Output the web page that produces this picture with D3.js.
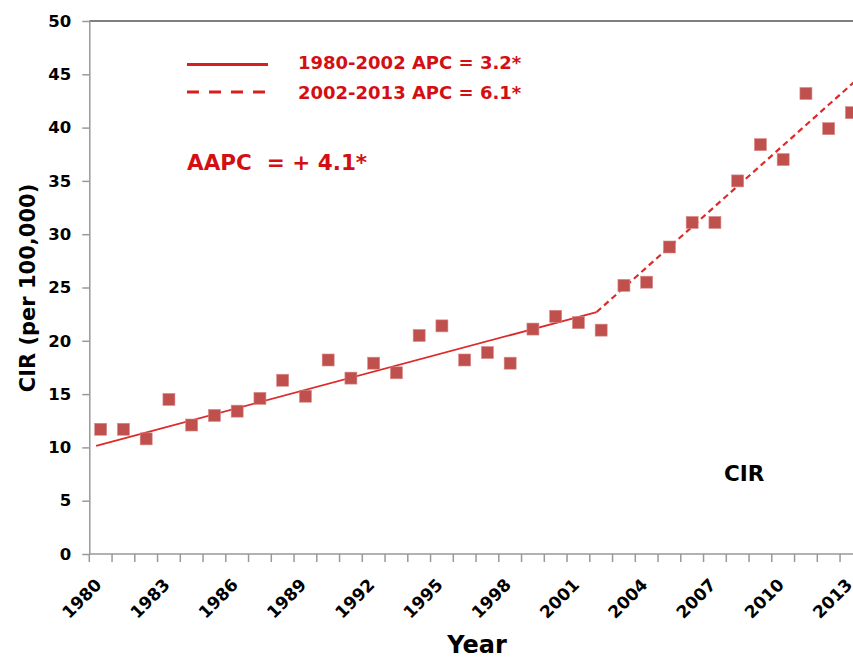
<!DOCTYPE html>
<html>
<head>
<meta charset="utf-8">
<script src="https://cdn.jsdelivr.net/npm/d3@7"></script>
<style>
  body { margin: 0; background: #fff; }
  svg { display: block; font-family: "DejaVu Sans", Verdana, sans-serif; font-weight: bold; }
  text { white-space: pre; }
</style>
</head>
<body>
<div id="chart"></div>
<script>
// yearly crude incidence rate
const years = d3.range(1980, 2014)
const cir = [11.7, 11.7, 10.8, 14.5, 12.1, 13.0, 13.4, 14.6, 16.3, 14.8,
  18.2, 16.5, 17.9, 17.0, 20.5, 21.4, 18.2, 18.9, 17.9, 21.1,
  22.3, 21.7, 21.0, 25.2, 25.5, 28.8, 31.1, 31.1, 35.0, 38.4,
  37.0, 43.2, 39.9, 41.4]

// joinpoint segments [year, rate]
const solidTrend = [[1979.8, 10.15], [2001.8, 22.7]]
const dashedTrend = [[2001.8, 22.7], [2013.5, 45.0]]

const yTicks = d3.range(0, 51, 5)
const xLabelYears = d3.range(1980, 2014, 3)
const legendLabels = ['1980-2002 APC = 3.2*', '2002-2013 APC = 6.1*']
const aapcLabel = 'AAPC  = + 4.1*'

const W = 853, H = 660
const plotLeft = 89.3, plotTop = 21, plotBottom = 554
const band = 22.75

const svg = d3.select('#chart').append('svg')
  .attr('width', W)
  .attr('height', H)

const x = d3.scaleBand()
  .domain(years)
  .range([plotLeft, plotLeft + band * years.length])
  .paddingInner(0)
const xYear = d3.scaleLinear()
  .domain([1980, 2013])
  .range([x(1980) + band / 2, x(2013) + band / 2])
const y = d3.scaleLinear()
  .domain([0, 50])
  .range([plotBottom, plotTop])

// top frame line
svg.append('line')
  .attr('x1', plotLeft).attr('x2', W)
  .attr('y1', plotTop).attr('y2', plotTop)
  .attr('stroke', '#555').attr('stroke-width', 1.5)

// y axis
const yAxis = svg.append('g')
  .attr('transform', `translate(${plotLeft},0)`)
  .call(d3.axisLeft(y).tickValues(yTicks).tickSize(7).tickSizeOuter(0).tickPadding(11))
yAxis.select('.domain').attr('stroke', '#999').attr('stroke-width', 1.5)
yAxis.selectAll('.tick line').attr('stroke', '#999').attr('stroke-width', 1.5)
yAxis.selectAll('.tick text')
  .attr('font-family', '"DejaVu Sans", sans-serif')
  .attr('font-size', 16.5)
  .attr('font-weight', 'bold')
  .attr('fill', '#000')

// x axis (category style, ticks between years)
const xAxis = svg.append('g')
xAxis.append('line')
  .attr('x1', plotLeft).attr('x2', W)
  .attr('y1', plotBottom).attr('y2', plotBottom)
  .attr('stroke', '#999').attr('stroke-width', 1.5)
xAxis.selectAll('line.tk')
  .data(years.concat([2014]))
  .join('line')
  .attr('class', 'tk')
  .attr('x1', d => d === 2014 ? x(2013) + band : x(d))
  .attr('x2', d => d === 2014 ? x(2013) + band : x(d))
  .attr('y1', plotBottom).attr('y2', plotBottom + 8)
  .attr('stroke', '#999').attr('stroke-width', 1.5)
xAxis.selectAll('text')
  .data(xLabelYears)
  .join('text')
  .attr('transform', d => `translate(${x(d) + band / 2 + 2},${plotBottom + 32}) rotate(-45)`)
  .attr('text-anchor', 'end')
  .attr('font-size', 17)
  .attr('fill', '#000')
  .text(d => d)

// axis titles
svg.append('text')
  .attr('transform', `translate(35,288) rotate(-90)`)
  .attr('text-anchor', 'middle')
  .attr('font-size', 21)
  .attr('fill', '#000')
  .text('CIR (per 100,000)')
svg.append('text')
  .attr('x', 477).attr('y', 653)
  .attr('text-anchor', 'middle')
  .attr('font-size', 24)
  .attr('fill', '#000')
  .text('Year')

// trend lines
const line = d3.line().x(d => xYear(d[0])).y(d => y(d[1]))
svg.append('path')
  .attr('d', line(solidTrend))
  .attr('fill', 'none')
  .attr('stroke', '#dc2a2a')
  .attr('stroke-width', 1.8)
svg.append('path')
  .attr('d', line(dashedTrend))
  .attr('fill', 'none')
  .attr('stroke', '#dc2a2a')
  .attr('stroke-width', 2.2)
  .attr('stroke-dasharray', '6,4')

// observed points
const s = 12
svg.append('g')
  .selectAll('rect')
  .data(years.map((yr, i) => [yr, cir[i]]))
  .join('rect')
  .attr('x', d => x(d[0]) + band / 2 - s / 2)
  .attr('y', d => y(d[1]) - s / 2)
  .attr('width', s).attr('height', s)
  .attr('fill', '#c0504d')
  .attr('stroke', '#d88a88')
  .attr('stroke-width', 0.6)

// legend
const legend = svg.append('g')
legend.selectAll('line')
  .data(legendLabels)
  .join('line')
  .attr('x1', 187).attr('x2', 268)
  .attr('y1', (d, i) => 64.5 + i * 27.5)
  .attr('y2', (d, i) => 64.5 + i * 27.5)
  .attr('stroke', '#d81e1e')
  .attr('stroke-width', 3)
  .attr('stroke-dasharray', (d, i) => i ? '12,10' : null)
legend.selectAll('text')
  .data(legendLabels)
  .join('text')
  .attr('x', 298)
  .attr('y', (d, i) => 69 + i * 30)
  .attr('font-size', 18)
  .attr('fill', '#d40f14')
  .text(d => d)

svg.append('text')
  .attr('x', 187).attr('y', 170)
  .attr('font-size', 21.5)
  .attr('fill', '#d40f14')
  .text(aapcLabel)

svg.append('text')
  .attr('x', 724).attr('y', 481)
  .attr('font-size', 21.5)
  .attr('fill', '#000')
  .text('CIR')
</script>
</body>
</html>
